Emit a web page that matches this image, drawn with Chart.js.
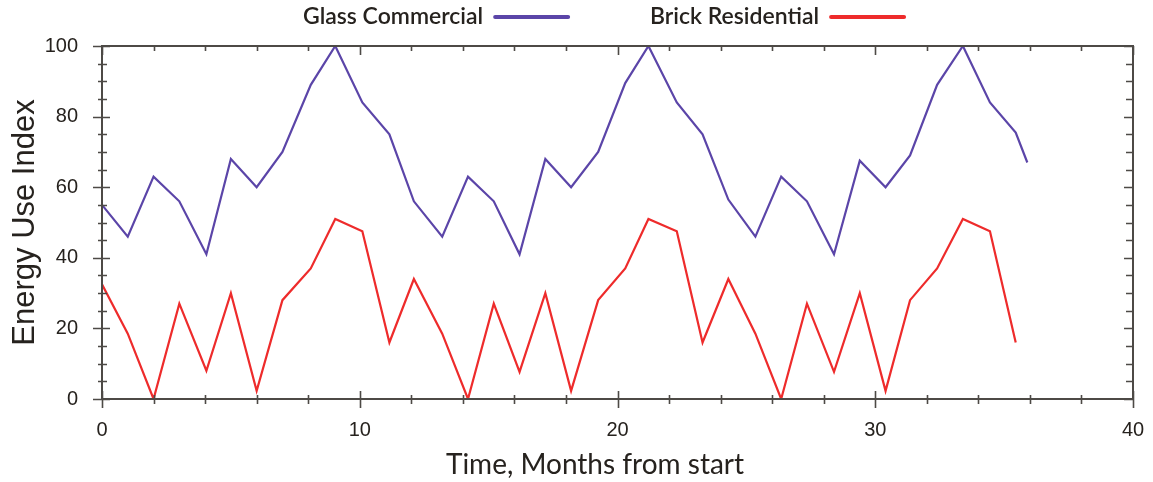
<!DOCTYPE html>
<html>
<head>
<meta charset="utf-8">
<script src="https://cdn.jsdelivr.net/npm/chart.js@4"></script>
<style>
  html, body { margin: 0; padding: 0; background: #ffffff; }
  #wrap { width: 1153px; height: 482px; }
</style>
</head>
<body>
<div id="wrap"><canvas id="c" width="1153" height="482"></canvas></div>
<script>
// ---- data ----
const seriesNames = ['Glass Commercial', 'Brick Residential'];
const months = [0, 1, 2, 3, 4.05, 5, 6, 7, 8.1, 9.05, 10.1, 11.15, 12.1, 13.2, 14.2, 15.2, 16.2, 17.2, 18.2, 19.25,
                20.3, 21.2, 22.3, 23.3, 24.3, 25.35, 26.35, 27.35, 28.4, 29.4, 30.4, 31.35, 32.4, 33.4, 34.45, 35.45, 35.9];
const glassCommercial = [55, 46, 63, 56, 41, 68, 60, 70, 89, 100, 84, 75, 56, 46, 63, 56, 41, 68, 60, 70,
                         89.5, 100, 84, 75, 56.5, 46, 63, 56, 41, 67.5, 60, 69, 89, 100, 84, 75.5, 67];
const brickResidential = [32.5, 18.5, 0, 27, 8, 30, 2.3, 28, 37, 51, 47.5, 16, 34, 18.5, 0, 27, 7.7, 30, 2.3, 28,
                          37, 51, 47.5, 16, 34, 18.5, 0, 27, 7.7, 30, 2.3, 28, 37, 51, 47.5, 16];
const xTicks = [0, 10, 20, 30, 40];
const yTicks = [0, 20, 40, 60, 80, 100];
const xTitle = 'Time, Months from start';
const yTitle = 'Energy Use Index';

// ---- styles ----
const BLUE = '#5b45a8';
const RED = '#ee2b2b';
const AXIS = '#4d4a46';
const TEXT = '#26221e';

function pts(xs, ys) { return ys.map((v, i) => ({ x: xs[i], y: v })); }

const frameAndTicks = {
  id: 'frameAndTicks',
  afterDatasetsDraw(chart) {
    const { ctx, chartArea: a, scales: { x, y } } = chart;
    ctx.save();
    ctx.strokeStyle = AXIS;
    ctx.lineWidth = 2;
    ctx.strokeRect(a.left, a.top, a.right - a.left, a.bottom - a.top);
    ctx.lineWidth = 1.6;
    ctx.beginPath();
    for (let v = 0; v <= 40; v += 2) {
      const px = Math.round(x.getPixelForValue(v)) + 0.5;
      if (v % 10 === 0) {
        ctx.moveTo(px, a.bottom - 8); ctx.lineTo(px, a.bottom + 9);
        ctx.moveTo(px, a.top); ctx.lineTo(px, a.top + 9);
      } else {
        ctx.moveTo(px, a.bottom - 4); ctx.lineTo(px, a.bottom + 5);
        ctx.moveTo(px, a.top); ctx.lineTo(px, a.top + 5);
      }
    }
    for (let v = 0; v <= 100; v += 5) {
      const py = Math.round(y.getPixelForValue(v)) + 0.5;
      if (v % 20 === 0) {
        ctx.moveTo(a.left - 9, py); ctx.lineTo(a.left + 8, py);
        ctx.moveTo(a.right - 9, py); ctx.lineTo(a.right, py);
      } else {
        ctx.moveTo(a.left - 4, py); ctx.lineTo(a.left + 5, py);
        ctx.moveTo(a.right - 7, py); ctx.lineTo(a.right, py);
      }
    }
    ctx.stroke();
    ctx.restore();
  }
};

const textExtras = {
  id: 'textExtras',
  afterDraw(chart) {
    const { ctx } = chart;
    ctx.save();
    ctx.font = '600 23px Lato';
    ctx.textBaseline = 'middle';
    ctx.textAlign = 'left';
    [{ ds: chart.data.datasets[0], x: 303 }, { ds: chart.data.datasets[1], x: 650 }].forEach(it => {
      ctx.fillStyle = TEXT;
      ctx.fillText(it.ds.label, it.x, 17);
      const w = ctx.measureText(it.ds.label).width;
      ctx.strokeStyle = it.ds.borderColor;
      ctx.lineWidth = 4;
      ctx.lineCap = 'round';
      ctx.beginPath();
      ctx.moveTo(it.x + w + 12, 17);
      ctx.lineTo(it.x + w + 85, 17);
      ctx.stroke();
    });
    ctx.font = '28px Lato';
    ctx.fillStyle = TEXT;
    ctx.textAlign = 'center';
    ctx.textBaseline = 'middle';
    ctx.fillText(xTitle, 595, 465);
    ctx.restore();
  }
};

new Chart(document.getElementById('c'), {
  type: 'line',
  data: {
    datasets: [
      { label: seriesNames[0], data: pts(months, glassCommercial), borderColor: BLUE, backgroundColor: BLUE,
        borderWidth: 2.2, pointRadius: 0, tension: 0 },
      { label: seriesNames[1], data: pts(months, brickResidential), borderColor: RED, backgroundColor: RED,
        borderWidth: 2.2, pointRadius: 0, tension: 0 }
    ]
  },
  options: {
    responsive: false,
    animation: false,
    layout: { padding: { top: 46, right: 20, bottom: 0, left: 0 } },
    plugins: { legend: { display: false }, tooltip: { enabled: false } },
    scales: {
      x: {
        type: 'linear', min: 0, max: 40,
        afterBuildTicks: s => { s.ticks = xTicks.map(v => ({ value: v })); },
        afterFit: s => { s.height = 83; s.paddingLeft = 0; s.paddingRight = 0; },
        grid: { display: false, drawTicks: false },
        border: { display: false },
        ticks: { color: TEXT, padding: 19, maxRotation: 0, font: { family: 'Liberation Sans', size: 20 } },
        title: { display: false, text: xTitle }
      },
      y: {
        min: 0, max: 100,
        afterBuildTicks: s => { s.ticks = yTicks.map(v => ({ value: v })); },
        afterFit: s => { s.width = 102; s.paddingTop = 0; s.paddingBottom = 0; },
        grid: { display: false, drawTicks: false },
        border: { display: false },
        ticks: { color: TEXT, padding: 24, font: { family: 'Liberation Sans', size: 20 } },
        title: { display: true, text: yTitle, color: TEXT, padding: { top: 7, bottom: 0 },
                 font: { family: 'Liberation Sans', size: 31 } }
      }
    }
  },
  plugins: [frameAndTicks, textExtras]
});
</script>
</body>
</html>
